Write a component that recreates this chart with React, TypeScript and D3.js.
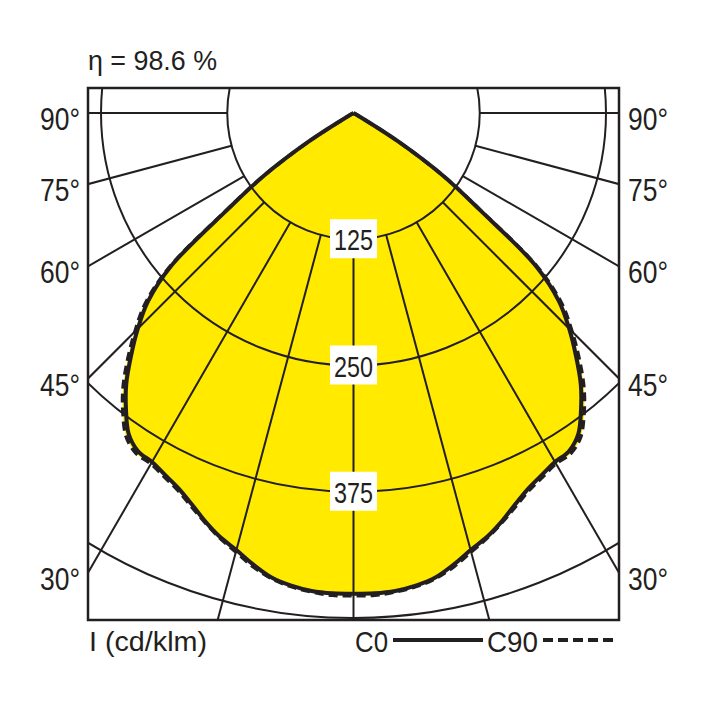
import React from 'react';
import * as d3 from 'd3';

// polar angles (deg from nadir) and intensities in cd/klm
const GAMMA = [0, 2.5, 5, 7.5, 10, 12.5, 15, 17.5, 20, 22.5, 25, 27.5, 30, 32.5, 35, 37.5, 40, 42.5, 45, 47.5, 50, 52.5, 55, 57.5, 60, 62.5, 65, 67.5, 70, 72.5, 75, 77.5, 80, 82.5, 85, 87.5, 90];
const C0 = [476, 476, 475, 472, 467, 458, 448, 440, 430, 419, 410, 404, 399, 397, 388, 370, 350, 326, 302, 276, 236, 158, 108, 52, 4, 0, 0, 0, 0, 0, 0, 0, 0, 0, 0, 0, 0];
const C90 = [478, 478, 476, 473, 468, 460, 450, 441, 431, 421, 412, 406, 401, 400, 392, 375, 355, 331, 306, 280, 239, 160, 109, 53, 4, 0, 0, 0, 0, 0, 0, 0, 0, 0, 0, 0, 0];

const RINGS = [125, 250, 375, 500];
const RING_LABELS = [125, 250, 375];
const RAYS = [0, 15, 30, 45, 60, 75, 90];
const ANGLE_LABELS = [90, 75, 60, 45, 30];
const ETA = 'η = 98.6 %';
const UNIT = 'I (cd/klm)';
const LEGEND = ['C0', 'C90'];

const W = 708;
const H = 708;
const FX0 = 88;
const FX1 = 619;
const FY0 = 88;
const FY1 = 620;
const CX = (FX0 + FX1) / 2;
const CY = 113;
const INK = '#231f20';
const YELLOW = '#ffea00';
const FONT = '"Liberation Sans", Arial, sans-serif';

const r = d3.scaleLinear().domain([0, 500]).range([0, 505]);
const rad = (deg: number) => (deg * Math.PI) / 180;

// left half (C180 / C270) then right half (C0 / C90), mirrored
function curve(vals: number[]): string {
  const pts: [number, number][] = [];
  for (let i = GAMMA.length - 1; i >= 0; i--) pts.push([Math.PI + rad(GAMMA[i]), r(vals[i])]);
  for (let i = 1; i < GAMMA.length; i++) pts.push([Math.PI - rad(GAMMA[i]), r(vals[i])]);
  return (
    d3
      .lineRadial<[number, number]>()
      .angle(d => d[0])
      .radius(d => d[1])
      .curve(d3.curveCatmullRom.alpha(0.5))(pts) ?? ''
  );
}

const at = (deg: number, v: number, side: number): [number, number] => [
  CX + side * r(v) * Math.sin(rad(deg)),
  CY + r(v) * Math.cos(rad(deg)),
];

const edgeY = (deg: number) => (deg === 90 ? CY : CY + (CX - FX0) / Math.tan(rad(deg)));

const Label: React.FC<{ x: number; y: number; size: number; len: number; anchor?: string; children: string }> = ({
  x, y, size, len, anchor = 'start', children,
}) => (
  <text
    x={x}
    y={y}
    fontSize={size}
    fontFamily={FONT}
    fill={INK}
    textAnchor={anchor}
    textLength={len}
    lengthAdjust="spacingAndGlyphs"
  >
    {children}
  </text>
);

export default function App() {
  const c0 = curve(C0);
  const c90 = curve(C90);
  return (
    <svg width={W} height={H} style={{ position: 'absolute', left: 0, top: 0, background: '#fff' }}>
      <defs>
        <clipPath id="frame">
          <rect x={FX0} y={FY0} width={FX1 - FX0} height={FY1 - FY0} />
        </clipPath>
      </defs>

      <g clipPath="url(#frame)">
        <path d={c90 + 'Z'} transform={`translate(${CX},${CY})`} fill={YELLOW} />
        <path d={c0 + 'Z'} transform={`translate(${CX},${CY})`} fill={YELLOW} />

        {RINGS.map(v => (
          <circle key={v} cx={CX} cy={CY} r={r(v)} fill="none" stroke={INK} strokeWidth={2} />
        ))}
        {RAYS.flatMap(a =>
          (a === 0 ? [1] : [-1, 1]).map(s => {
            const [x1, y1] = at(a, 125, s);
            const [x2, y2] = at(a, 1000, s);
            return <line key={`${a}${s}`} x1={x1} y1={y1} x2={x2} y2={y2} stroke={INK} strokeWidth={2} />;
          }),
        )}

        {RING_LABELS.map(v => (
          <g key={v}>
            <rect x={CX - 23.5} y={CY + r(v) - 20} width={47} height={39} fill="#fff" />
            <Label x={CX} y={CY + r(v) + 11} size={29} len={39} anchor="middle">{String(v)}</Label>
          </g>
        ))}

        <path
          d={c90}
          transform={`translate(${CX},${CY})`}
          fill="none"
          stroke={INK}
          strokeWidth={3.5}
          strokeDasharray="9 5"
        />
        <path
          d={c0}
          transform={`translate(${CX},${CY})`}
          fill="none"
          stroke={INK}
          strokeWidth={4}
          strokeLinejoin="round"
        />
      </g>

      <rect x={FX0} y={FY0} width={FX1 - FX0} height={FY1 - FY0} fill="none" stroke={INK} strokeWidth={2.5} />

      <Label x={88} y={70} size={28} len={129}>{ETA}</Label>
      {ANGLE_LABELS.map(a => (
        <g key={a}>
          <Label x={80} y={edgeY(a) + 17} size={32} len={40} anchor="end">{`${a}°`}</Label>
          <Label x={628} y={edgeY(a) + 17} size={32} len={40}>{`${a}°`}</Label>
        </g>
      ))}

      <Label x={89} y={651} size={27} len={118}>{UNIT}</Label>
      <Label x={355} y={652} size={30} len={33}>{LEGEND[0]}</Label>
      <line x1={393} y1={640} x2={483} y2={640} stroke={INK} strokeWidth={4} />
      <Label x={487} y={652} size={30} len={51}>{LEGEND[1]}</Label>
      <line x1={543} y1={640} x2={616} y2={640} stroke={INK} strokeWidth={4} strokeDasharray="10 5" />
    </svg>
  );
}
